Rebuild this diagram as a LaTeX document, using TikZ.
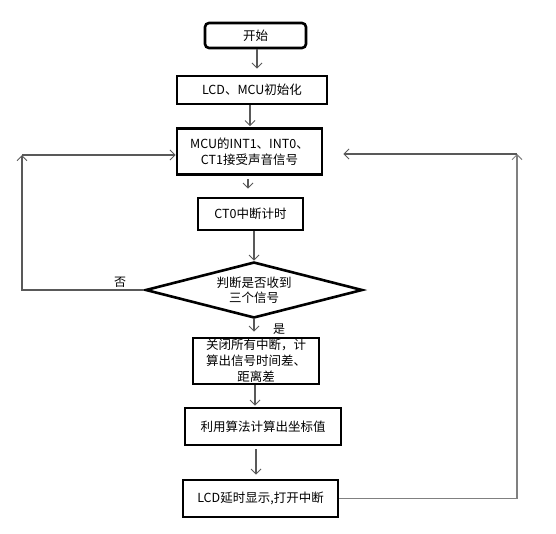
\documentclass[tikz,border=0pt]{standalone}
\usepackage{fontspec}
\setmainfont{Noto Sans CJK SC}
\usetikzlibrary{arrows.meta,shapes.geometric}
\tikzset{
  box/.style={draw=black, line width=2.6pt, rectangle, inner sep=0pt, align=center,
    font=\fontsize{12.5pt}{16pt}\selectfont},
  startbox/.style={box, rounded corners=4pt},
  decision/.style={draw=black, line width=2.6pt, diamond, aspect=3.875, inner sep=0pt,
    align=center, minimum width=217pt, minimum height=56pt,
    font=\fontsize{12.5pt}{15pt}\selectfont},
  conn/.style={draw=black!65, line width=1.1pt, -{Straight Barb[length=5pt,width=10pt,line width=1pt]}},
  line/.style={draw=black!60, line width=1.1pt},
  lbl/.style={font=\fontsize{12pt}{14pt}\selectfont, inner sep=0pt}
}
\begin{document}
\begin{tikzpicture}[x=1pt,y=-1pt]
\useasboundingbox (0,0) rectangle (556,533);
\node[startbox, minimum width=101pt, minimum height=25pt] (start) at (255.5,35.5) {开始};
\node[box, minimum width=150pt, minimum height=28pt] (init) at (252,90) {LCD、MCU初始化};
\node[box, minimum width=145pt, minimum height=46pt] (mcu) at (249.5,151.5) {MCU的INT1、INT0、\\CT1接受声音信号};
\node[box, minimum width=105pt, minimum height=32pt] (ct0) at (250.5,214) {CT0中断计时};
\node[decision] (dia) at (254,290) {判断是否收到\\三个信号};
\node[box, minimum width=126pt, minimum height=46pt] (close) at (256,361) {关闭所有中断，计\\算出信号时间差、\\距离差};
\node[box, minimum width=156pt, minimum height=37pt] (calc) at (263,426.5) {利用算法计算出坐标值};
\node[box, minimum width=155pt, minimum height=37pt] (lcd) at (260.5,498.5) {LCD延时显示,打开中断};

\coordinate (lt) at (22,155);
\coordinate (lb) at (22,290);
\coordinate (rt) at (517,154);
\coordinate (rb) at (517,498.5);

\draw[conn, shorten >=6pt] ([xshift=1.5pt]start.south) -- ([xshift=1.5pt]start.south |- init.north);
\draw[conn, shorten >=1pt] ([xshift=-2pt]init.south) -- ([xshift=-2pt]init.south |- mcu.north);
\draw[conn, shorten <=3pt, shorten >=8pt] ([xshift=-1.5pt]mcu.south) -- ([xshift=-1.5pt]mcu.south |- ct0.north);
\draw[conn] ([xshift=3.5pt]ct0.south) -- (dia.north);
\draw[conn, shorten >=5pt] (dia.south) -- (dia.south |- close.north);
\draw[conn, shorten >=1pt] ([xshift=-1pt]close.south) -- ([xshift=-1pt]close.south |- calc.north);
\draw[conn, shorten <=3pt, shorten >=4pt] ([xshift=-7pt]calc.south) -- ([xshift=-7pt]calc.south |- lcd.north);

\draw[conn] (dia.west) -- (lb) -- (lt);
\draw[conn] (lt) -- (lt -| mcu.west);
\draw[conn, draw=black!50] (lcd.east) -- (rb) -- (rt);
\draw[conn, shorten >=20pt] (rt) -- (rt -| mcu.east);

\node[lbl] (no) at (120,282) {否};
\node[lbl] (yes) at (279,329) {是};
\end{tikzpicture}
\end{document}
